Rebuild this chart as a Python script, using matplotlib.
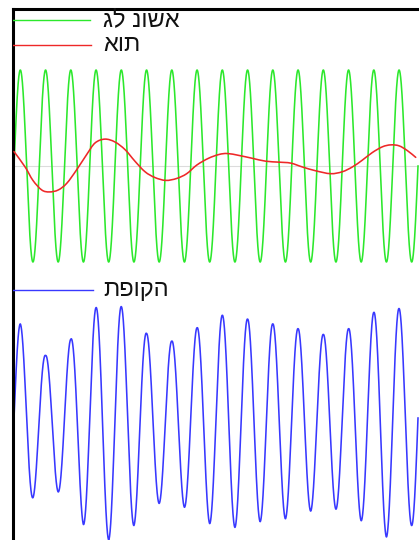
import numpy as np
import matplotlib
matplotlib.use("Agg")
import matplotlib.pyplot as plt
from matplotlib.path import Path
from matplotlib.patches import PathPatch

# ---------------- data ----------------
labels = ["גל נושא", "אות", "תפוקה"]

carrier_cycles = 16
carrier_amplitude = 1.0

# message signal (red), time in carrier cycles, value in carrier-amplitude units
signal_t = [0.00, 0.44, 0.75, 1.10, 1.40, 1.75, 2.09, 2.48, 2.88, 3.21,
            3.60, 4.00, 4.40, 4.79, 5.19, 5.58, 6.01, 6.44, 6.84, 7.24,
            7.70, 8.12, 8.45, 8.91, 9.44, 9.97, 10.50, 10.96, 11.42, 11.95,
            12.54, 13.00, 13.40, 13.79, 14.19, 14.59, 14.92, 15.25, 15.58, 15.91]
signal_v = [0.15, -0.01, -0.15, -0.25, -0.27, -0.25, -0.18, -0.04, 0.12, 0.24,
            0.28, 0.25, 0.17, 0.05, -0.06, -0.12, -0.15, -0.13, -0.08, 0.01,
            0.08, 0.12, 0.13, 0.11, 0.08, 0.05, 0.04, 0.03, -0.01, -0.05,
            -0.08, -0.06, -0.01, 0.06, 0.14, 0.20, 0.22, 0.21, 0.16, 0.09]

# modulated output (blue): value at each crest and each trough of the carrier
output_peaks = [0.98, 0.65, 0.82, 1.15, 1.16, 0.88, 0.80, 0.94,
                1.07, 1.03, 0.98, 0.93, 0.87, 0.93, 1.10, 1.14]
output_troughs = [-0.83, -0.77, -1.11, -1.27, -1.12, -0.89, -0.93, -1.10,
                  -1.14, -1.08, -1.05, -0.97, -0.95, -1.07, -1.24, -1.12]

# ---------------- layout ----------------
W, H, DPI = 419, 540, 100
PX_PER_T = 25.25        # pixels per carrier cycle
PX_PER_UNIT = 96.0      # pixels per amplitude unit
TOP_CENTER_PX = 166.0
BOT_CENTER_PX = 418.0
X0_PX = 14.0            # pixel x of t = 0
SPINE_X_PX, SPINE_Y_PX = 12.5, 9.0
AX_RIGHT_PX, AX_BOTTOM_PX = 445.0, 560.0

bottom_offset = -(BOT_CENTER_PX - TOP_CENTER_PX) / PX_PER_UNIT

fig = plt.figure(figsize=(W / DPI, H / DPI), dpi=DPI)
ax = fig.add_axes([SPINE_X_PX / W, (H - AX_BOTTOM_PX) / H,
                   (AX_RIGHT_PX - SPINE_X_PX) / W, (AX_BOTTOM_PX - SPINE_Y_PX) / H])
ax.set_xlim((SPINE_X_PX - X0_PX) / PX_PER_T, (AX_RIGHT_PX - X0_PX) / PX_PER_T)
ax.set_ylim((TOP_CENTER_PX - AX_BOTTOM_PX) / PX_PER_UNIT,
            (TOP_CENTER_PX - SPINE_Y_PX) / PX_PER_UNIT)
for side in ("right", "bottom"):
    ax.spines[side].set_visible(False)
for side in ("left", "top"):
    ax.spines[side].set_linewidth(2.2)
    ax.spines[side].set_color("black")
ax.set_xticks([])
ax.set_yticks([])

green, red, blue = "#2ce82c", "#ee2828", "#3838ff"

t = np.linspace(0, carrier_cycles, 4000)
carrier = carrier_amplitude * np.sin(2 * np.pi * t)

# zero line
ax.plot([0, carrier_cycles], [0, 0], color="#dcdcdc", lw=0.8, zorder=1)
# carrier
ax.plot(t, carrier, color=green, lw=1.15, zorder=2)

# signal: smooth Bezier path through the read points (Catmull-Rom handles)
P = np.column_stack([signal_t, signal_v])
Pe = np.vstack([P[0], P, P[-1]])
verts = [tuple(P[0])]
codes = [Path.MOVETO]
for i in range(len(P) - 1):
    p0, p1, p2, p3 = Pe[i], Pe[i + 1], Pe[i + 2], Pe[i + 3]
    c1 = p1 + (p2 - p0) / 6.0
    c2 = p2 - (p3 - p1) / 6.0
    verts += [tuple(c1), tuple(c2), tuple(p2)]
    codes += [Path.CURVE4] * 3
ax.add_patch(PathPatch(Path(verts, codes), fill=False, edgecolor=red,
                       lw=1.15, zorder=3, capstyle="round", joinstyle="round"))

# output: carrier shape passing through the read crest/trough values
ext_t = 0.25 + 0.5 * np.arange(2 * len(output_peaks))
ext_v = np.empty(2 * len(output_peaks))
ext_v[0::2] = output_peaks
ext_v[1::2] = np.abs(output_troughs)
env = np.interp(t, ext_t, ext_v)
ax.plot(t, bottom_offset + env * np.sin(2 * np.pi * t), color=blue, lw=1.15, zorder=2)

# legend-like labels
leg_x0 = (13 - X0_PX) / PX_PER_T
leg_x1 = [(90 - X0_PX) / PX_PER_T, (91 - X0_PX) / PX_PER_T, (93 - X0_PX) / PX_PER_T]
leg_y = [(TOP_CENTER_PX - 20) / PX_PER_UNIT, (TOP_CENTER_PX - 45) / PX_PER_UNIT,
         (TOP_CENTER_PX - 290) / PX_PER_UNIT]
txt_x = (103 - X0_PX) / PX_PER_T
for lab, col, x1, y in zip(labels, [green, red, blue], leg_x1, leg_y):
    ax.plot([leg_x0, x1], [y, y], color=col, lw=1.0, zorder=3)
    ax.text(txt_x, y, lab, ha="left", va="center", fontsize=17,
            family=["Liberation Sans", "DejaVu Sans"], color="#111111")

fig.savefig("out.png", dpi=DPI)
